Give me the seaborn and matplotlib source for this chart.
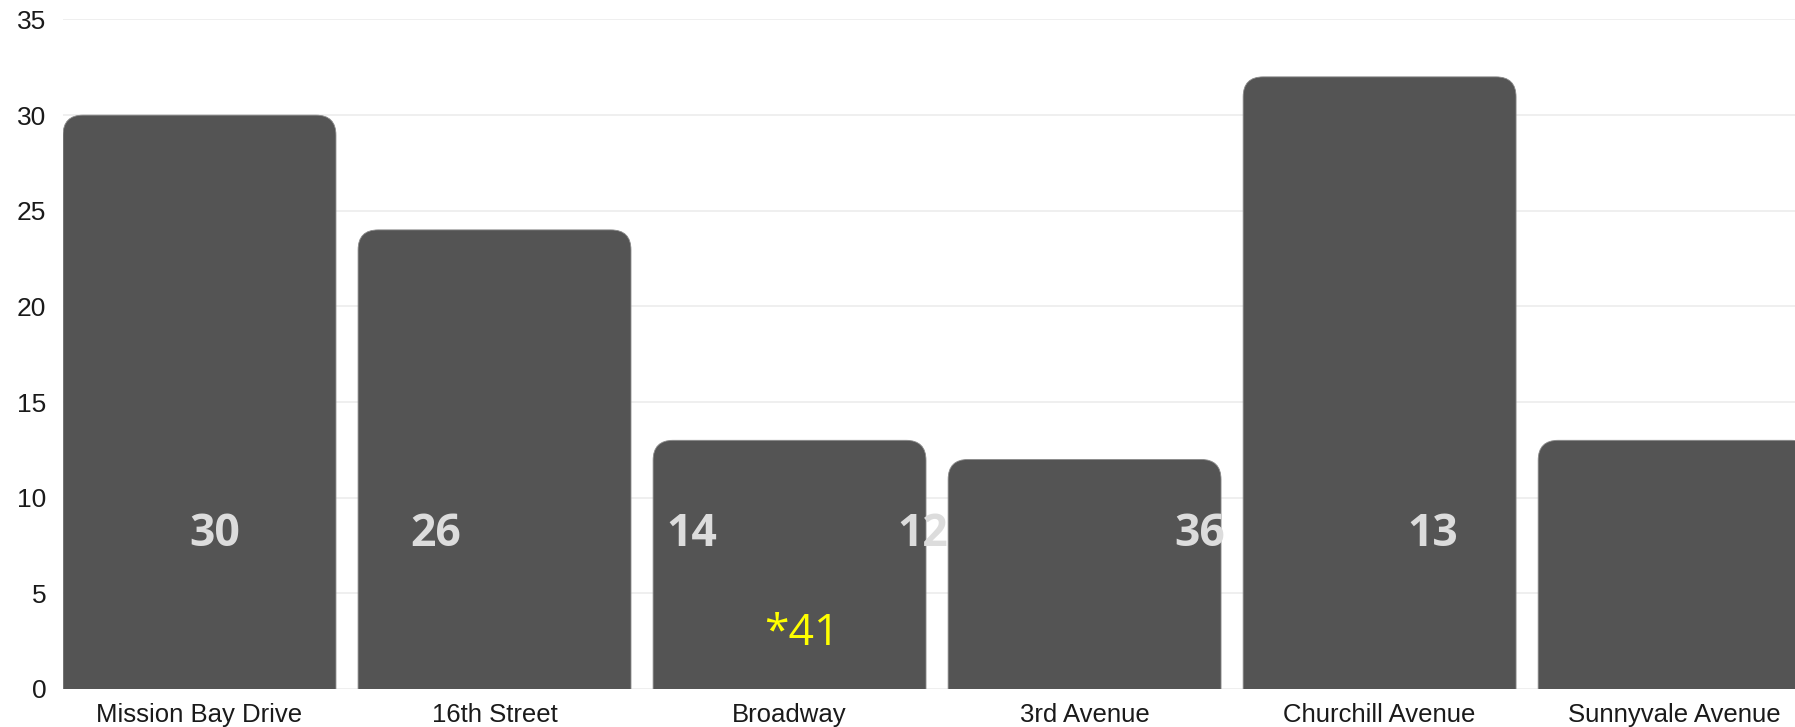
import matplotlib
matplotlib.use("Agg")
import matplotlib.pyplot as plt
from matplotlib.patches import FancyBboxPatch
import seaborn as sns
import pandas as pd

# datos del grafico
calles = ['Mission Bay Drive', '16th Street', 'Broadway', '3rd Avenue',
          'Churchill Avenue', 'Sunnyvale Avenue']
valores = [30, 24, 13, 12, 32, 13]

# etiquetas sueltas que aparecen sobre las barras
etiquetas = ['30', '26', '14', '12', '36', '13']
etiqueta_x = [0.05, 0.80, 1.67, 2.45, 3.39, 4.18]
etiqueta_y = 8.1
nota = '*41'
nota_x = 2.04
nota_y = 2.9

df = pd.DataFrame({'calle': calles, 'valor': valores})

sns.set_style('white')
plt.rcParams['font.family'] = ['Liberation Sans', 'DejaVu Sans']

fig = plt.figure(figsize=(17.95, 7.27), dpi=100)
ax = fig.add_axes([0.0351, 0.0523, 0.9649, 0.9209])

sns.barplot(data=df, x='calle', y='valor', color='#545454', saturation=1,
            width=0.925, ax=ax, zorder=2)

# cambiar las barras por rectangulos con esquinas superiores redondeadas
px_x = 295.0   # pixeles por unidad en x
px_y = 19.13   # pixeles por unidad en y
radio = 20.0
for p in list(ax.patches):
    x0 = p.get_x()
    w = p.get_width()
    h = p.get_height()
    p.set_visible(False)
    r = radio / px_x
    extra = radio / px_y * 1.5
    caja = FancyBboxPatch((x0, -extra), w, h + extra,
                          boxstyle=f'round,pad=0,rounding_size={r}',
                          mutation_aspect=px_x / px_y,
                          facecolor='#545454', edgecolor='#8a8a8a',
                          linewidth=0.6, zorder=2)
    ax.add_patch(caja)

ax.set_xlim(-0.4627, 5.408)
ax.set_ylim(0, 35)
ax.set_yticks(range(0, 36, 5))
ax.yaxis.grid(True, color='#ececec', linewidth=1.2, zorder=0)
ax.set_axisbelow(True)
for s in ax.spines.values():
    s.set_visible(False)

ax.set_xlabel('')
ax.set_ylabel('')
ax.tick_params(axis='x', length=0, pad=10, labelsize=18.5, labelcolor='#1a1a1a')
ax.tick_params(axis='y', length=0, pad=12, labelsize=19, labelcolor='#1a1a1a')
for t in ax.get_yticklabels():
    t.set_horizontalalignment('right')

for txt, x in zip(etiquetas, etiqueta_x):
    ax.text(x, etiqueta_y, txt, ha='center', va='center', fontsize=32,
            fontweight='bold', color='#dcdcdc', family=['Open Sans', 'DejaVu Sans'],
            zorder=5)

ax.text(nota_x, nota_y, nota, ha='center', va='center', fontsize=32,
        color='#ffff00', family=['Open Sans', 'DejaVu Sans'], zorder=5)

fig.savefig('out.png', dpi=100)
